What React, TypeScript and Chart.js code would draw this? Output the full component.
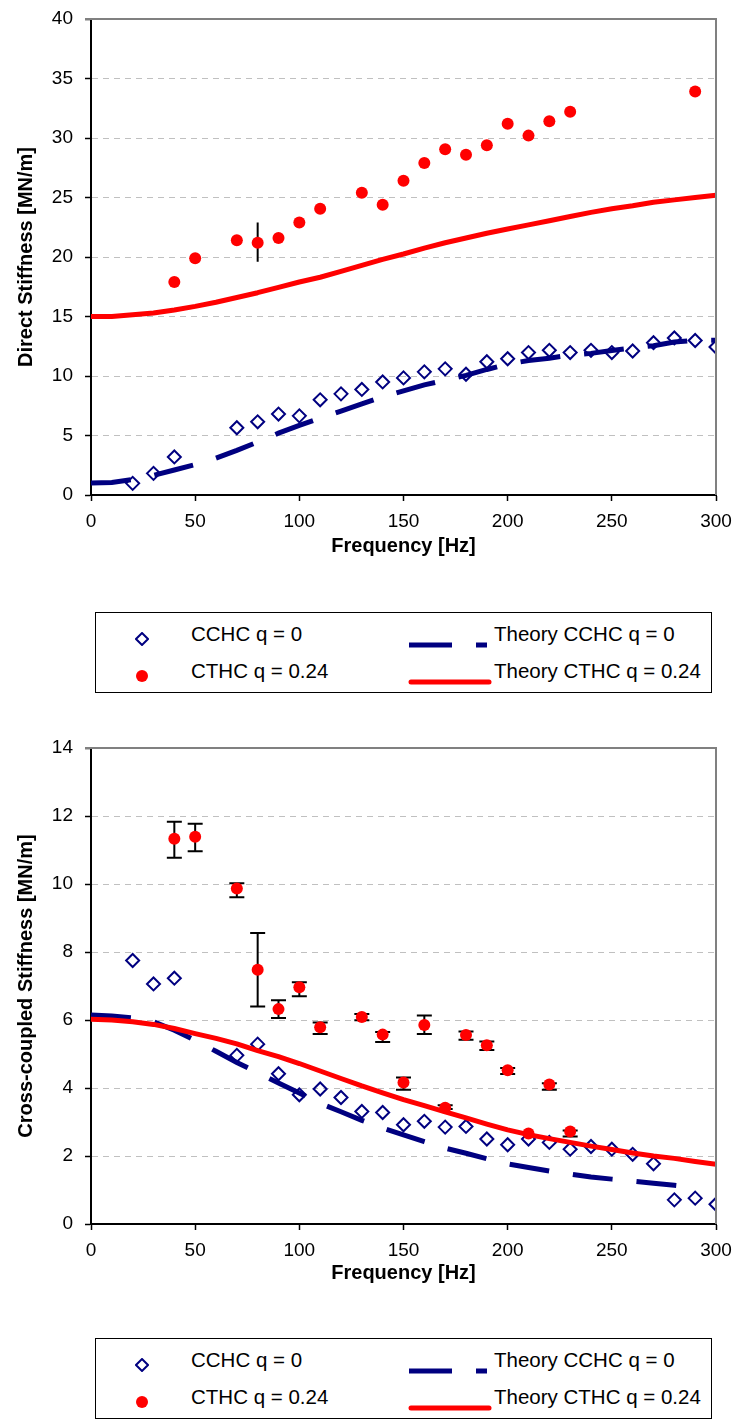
import React, { useEffect, useRef } from "react";
import { Chart, registerables } from "chart.js";

Chart.register(...registerables);

const FONT = "'Liberation Sans', Arial, sans-serif";

// ---------- Data ----------
const theoryFreq = [0,10,20,30,40,50,60,70,80,90,100,110,120,130,140,150,160,170,180,190,200,210,220,230,240,250,260,270,280,290,300];

// Top chart: direct stiffness
const directCchcFreq = [20,30,40,70,80,90,100,110,120,130,140,150,160,170,180,190,200,210,220,230,240,250,260,270,280,290,300];
const directCchcVals = [0.98,1.82,3.2,5.65,6.15,6.8,6.65,8.0,8.5,8.87,9.5,9.84,10.35,10.6,10.15,11.2,11.45,11.97,12.16,11.97,12.16,11.97,12.1,12.8,13.2,12.98,12.44];

const directCthcFreq = [40,50,70,80,90,100,110,130,140,150,160,170,180,190,200,210,220,230,290];
const directCthcVals = [17.9,19.9,21.4,21.2,21.6,22.9,24.05,25.4,24.4,26.4,27.9,29.05,28.6,29.4,31.2,30.2,31.4,32.2,33.9];
const directCthcLow: (number | null)[] = [null,null,null,19.6,null,null,null,null,null,null,null,null,null,null,null,null,null,null,null];
const directCthcHigh: (number | null)[] = [null,null,null,22.9,null,null,null,null,null,null,null,null,null,null,null,null,null,null,null];

const directTheoryCchc = [1.0,1.05,1.3,1.65,2.1,2.55,3.1,3.75,4.45,5.2,5.85,6.45,7.05,7.65,8.25,8.75,9.25,9.65,10.05,10.55,11.0,11.3,11.5,11.75,11.9,12.15,12.35,12.55,12.85,13.0,13.0];
const directTheoryCthc = [15.0,15.0,15.15,15.3,15.55,15.85,16.2,16.6,17.0,17.45,17.9,18.3,18.8,19.3,19.8,20.25,20.75,21.2,21.6,22.0,22.35,22.7,23.05,23.4,23.75,24.05,24.3,24.6,24.8,25.0,25.2];

// Bottom chart: cross-coupled stiffness
const crossCchcFreq = [20,30,40,70,80,90,100,110,120,130,140,150,160,170,180,190,200,210,220,230,240,250,260,270,280,290,300];
const crossCchcVals = [7.75,7.06,7.23,4.96,5.29,4.42,3.8,3.97,3.72,3.31,3.28,2.92,3.02,2.85,2.87,2.5,2.33,2.5,2.4,2.2,2.28,2.2,2.05,1.77,0.71,0.76,0.58];

const crossCthcFreq = [40,50,70,80,90,100,110,130,140,150,160,170,180,190,200,210,220,230];
const crossCthcVals = [11.33,11.39,9.87,7.48,6.32,6.96,5.79,6.09,5.57,4.16,5.85,3.42,5.56,5.26,4.52,2.66,4.1,2.72];
const crossCthcLow: (number | null)[] = [10.77,10.96,9.61,6.4,6.06,6.7,5.59,5.99,5.35,3.95,5.59,3.38,5.42,5.12,4.41,null,3.95,2.57];
const crossCthcHigh: (number | null)[] = [11.83,11.77,10.02,8.56,6.58,7.11,5.93,6.18,5.65,4.31,6.13,3.49,5.66,5.37,4.59,null,4.14,2.75];

const crossTheoryCchcFreq = [0,10,20,30,40,50,60,70,80,90,100,110,120,130,140,150,160,170,180,190,200,210,220,230,240,250,260,270,280,290];
const crossTheoryCchc = [6.15,6.12,6.06,5.95,5.7,5.4,5.08,4.75,4.45,4.15,3.85,3.55,3.3,3.05,2.82,2.62,2.42,2.23,2.08,1.92,1.77,1.66,1.56,1.47,1.38,1.32,1.26,1.2,1.14,1.08];
const crossTheoryCthc = [6.02,6.0,5.95,5.87,5.75,5.6,5.46,5.3,5.1,4.92,4.72,4.5,4.28,4.06,3.86,3.66,3.48,3.3,3.12,2.94,2.77,2.63,2.51,2.4,2.29,2.19,2.09,2.0,1.93,1.84,1.76];

const legendLabels = ["CCHC q = 0", "CTHC q = 0.24", "Theory CCHC q = 0", "Theory CTHC q = 0.24"];

const NAVY = "#000080";
const RED = "#ff0000";

const xy = (xs: number[], ys: number[]) => xs.map((x, i) => ({ x, y: ys[i] }));

// ---------- Plugins ----------
const framePlugin = {
  id: "frame",
  afterDraw(chart: any) {
    const { ctx, chartArea } = chart;
    ctx.save();
    ctx.strokeStyle = "#808080";
    ctx.lineWidth = 2;
    ctx.beginPath();
    ctx.moveTo(chartArea.left - 6, chartArea.top);
    ctx.lineTo(chartArea.right, chartArea.top);
    ctx.lineTo(chartArea.right, chartArea.bottom);
    ctx.stroke();
    ctx.restore();
  },
};

const errorBarPlugin = {
  id: "errorBars",
  beforeDatasetsDraw(chart: any, _args: any, opts: any) {
    if (!opts || !opts.freq) return;
    const { ctx } = chart;
    const xs = chart.scales.x;
    const ys = chart.scales.y;
    ctx.save();
    ctx.strokeStyle = "#000";
    ctx.lineWidth = 2;
    const half = opts.cap / 2;
    opts.freq.forEach((f: number, i: number) => {
      const lo = opts.low[i];
      const hi = opts.high[i];
      if (lo == null || hi == null) return;
      const px = xs.getPixelForValue(f);
      const pl = ys.getPixelForValue(lo);
      const ph = ys.getPixelForValue(hi);
      ctx.beginPath();
      ctx.moveTo(px, pl);
      ctx.lineTo(px, ph);
      if (half > 0) {
        ctx.moveTo(px - half, pl);
        ctx.lineTo(px + half, pl);
        ctx.moveTo(px - half, ph);
        ctx.lineTo(px + half, ph);
      }
      ctx.stroke();
    });
    ctx.restore();
  },
};

// ---------- Chart builder ----------
function buildConfig(p: {
  yMax: number;
  yStep: number;
  yTitle: string;
  cchcFreq: number[];
  cchcVals: number[];
  cthcFreq: number[];
  cthcVals: number[];
  low: (number | null)[];
  high: (number | null)[];
  cap: number;
  thCchcFreq: number[];
  thCchc: number[];
  thCthc: number[];
  padTop: number;
  xAxisHeight: number;
  xTitlePad: number;
}) {
  return {
    type: "scatter",
    data: {
      datasets: [
        {
          label: legendLabels[0],
          data: xy(p.cchcFreq, p.cchcVals),
          showLine: false,
          pointStyle: "rectRot",
          pointRadius: 6.5,
          pointBorderWidth: 2,
          borderColor: NAVY,
          backgroundColor: "rgba(255,255,255,0)",
          order: 4,
        },
        {
          label: legendLabels[1],
          data: xy(p.cthcFreq, p.cthcVals),
          showLine: false,
          pointStyle: "circle",
          pointRadius: 6,
          pointBorderWidth: 0,
          borderColor: RED,
          backgroundColor: RED,
          order: 3,
        },
        {
          label: legendLabels[2],
          data: xy(p.thCchcFreq, p.thCchc),
          showLine: true,
          pointRadius: 0,
          borderColor: NAVY,
          backgroundColor: NAVY,
          borderWidth: 5,
          borderDash: [40, 24],
          borderCapStyle: "butt",
          tension: 0,
          order: 2,
        },
        {
          label: legendLabels[3],
          data: xy(theoryFreq, p.thCthc),
          showLine: true,
          pointRadius: 0,
          borderColor: RED,
          backgroundColor: RED,
          borderWidth: 5,
          borderCapStyle: "round",
          borderJoinStyle: "round",
          tension: 0,
          order: 1,
        },
      ],
    },
    options: {
      responsive: false,
      animation: false,
      events: [],
      layout: { padding: { left: 0, right: 21, top: p.padTop, bottom: 0 } },
      plugins: {
        legend: { display: false },
        tooltip: { enabled: false },
        errorBars: { freq: p.cthcFreq, low: p.low, high: p.high, cap: p.cap },
      },
      scales: {
        x: {
          type: "linear",
          min: 0,
          max: 300,
          ticks: { stepSize: 50, color: "#000", font: { family: FONT, size: 19 }, padding: 9, maxRotation: 0 },
          grid: { drawOnChartArea: false, drawTicks: true, tickLength: 6, tickColor: "#000", tickWidth: 1.5 },
          border: { display: true, color: "#000", width: 2 },
          title: {
            display: true,
            text: "Frequency [Hz]",
            color: "#000",
            font: { family: FONT, size: 20, weight: "bold" },
            padding: { top: 0, bottom: p.xTitlePad },
          },
          afterFit: (s: any) => {
            s.height = p.xAxisHeight;
            s.paddingLeft = 0;
            s.paddingRight = 0;
          },
        },
        y: {
          type: "linear",
          min: 0,
          max: p.yMax,
          ticks: { stepSize: p.yStep, color: "#000", font: { family: FONT, size: 19 }, padding: 12 },
          grid: {
            color: (c: any) =>
              c.tick && (c.tick.value === 0 || c.tick.value === p.yMax) ? "rgba(0,0,0,0)" : "#c0c0c0",
            lineWidth: 1,
            drawTicks: true,
            tickLength: 6,
            tickColor: "#000",
            tickWidth: 1.5,
            tickBorderDash: [],
          },
          border: { display: true, color: "#000", width: 2, dash: [6, 5] },
          title: {
            display: true,
            text: p.yTitle,
            color: "#000",
            font: { family: FONT, size: 20, weight: "bold" },
            padding: { top: 14, bottom: 0 },
          },
          afterFit: (s: any) => {
            s.width = 91;
            s.paddingTop = 0;
            s.paddingBottom = 0;
          },
        },
      },
    },
    plugins: [framePlugin, errorBarPlugin],
  };
}

function ChartCanvas({ config, top, height }: { config: any; top: number; height: number }) {
  const ref = useRef<HTMLCanvasElement | null>(null);
  useEffect(() => {
    if (!ref.current) return;
    const chart = new Chart(ref.current, config);
    return () => chart.destroy();
  }, [config]);
  return (
    <canvas
      ref={ref}
      width={737}
      height={height}
      style={{ position: "absolute", left: 0, top, width: 737, height }}
    />
  );
}

function Legend({ top }: { top: number }) {
  const row = (y: number, marker: React.ReactNode, text: string, line: React.ReactNode, text2: string) => (
    <>
      <div style={{ position: "absolute", left: 39, top: y - 7, width: 14, height: 14 }}>{marker}</div>
      <div style={{ position: "absolute", left: 95, top: y - 12, lineHeight: "24px", whiteSpace: "nowrap" }}>{text}</div>
      <div style={{ position: "absolute", left: 312, top: y - 4, width: 86, height: 8 }}>{line}</div>
      <div style={{ position: "absolute", left: 398, top: y - 12, lineHeight: "24px", whiteSpace: "nowrap" }}>{text2}</div>
    </>
  );
  return (
    <div
      style={{
        position: "absolute",
        left: 95,
        top,
        width: 617,
        height: 81,
        border: "1px solid #000",
        boxSizing: "border-box",
        fontFamily: FONT,
        fontSize: 20.5,
        color: "#000",
        background: "#fff",
      }}
    >
      {row(
        21,
        <svg width="14" height="14"><polygon points="7,1 13,7 7,13 1,7" fill="none" stroke={NAVY} strokeWidth="2" /></svg>,
        legendLabels[0],
        <svg width="86" height="8"><line x1="1" y1="4" x2="79" y2="4" stroke={NAVY} strokeWidth="5" strokeDasharray="43 24" /></svg>,
        legendLabels[2]
      )}
      {row(
        58,
        <svg width="14" height="14"><circle cx="7" cy="7" r="6" fill={RED} /></svg>,
        legendLabels[1],
        <svg width="86" height="8"><line x1="3" y1="4" x2="81" y2="4" stroke={RED} strokeWidth="5" strokeLinecap="round" /></svg>,
        legendLabels[3]
      )}
    </div>
  );
}

const topConfig = buildConfig({
  yMax: 40,
  yStep: 5,
  yTitle: "Direct Stiffness [MN/m]",
  cchcFreq: directCchcFreq,
  cchcVals: directCchcVals,
  cthcFreq: directCthcFreq,
  cthcVals: directCthcVals,
  low: directCthcLow,
  high: directCthcHigh,
  cap: 0,
  thCchcFreq: theoryFreq,
  thCchc: directTheoryCchc,
  thCthc: directTheoryCthc,
  padTop: 19,
  xAxisHeight: 105,
  xTitlePad: 42,
});

const bottomConfig = buildConfig({
  yMax: 14,
  yStep: 2,
  yTitle: "Cross-coupled Stiffness [MN/m]",
  cchcFreq: crossCchcFreq,
  cchcVals: crossCchcVals,
  cthcFreq: crossCthcFreq,
  cthcVals: crossCthcVals,
  low: crossCthcLow,
  high: crossCthcHigh,
  cap: 15,
  thCchcFreq: crossTheoryCchcFreq,
  thCchc: crossTheoryCchc,
  thCthc: crossTheoryCthc,
  padTop: 48,
  xAxisHeight: 76,
  xTitlePad: 15,
});

export default function App() {
  return (
    <div style={{ position: "absolute", left: 0, top: 0, width: 737, height: 1420, background: "#fff" }}>
      <ChartCanvas config={topConfig} top={0} height={600} />
      <Legend top={612} />
      <ChartCanvas config={bottomConfig} top={700} height={600} />
      <Legend top={1338} />
    </div>
  );
}
